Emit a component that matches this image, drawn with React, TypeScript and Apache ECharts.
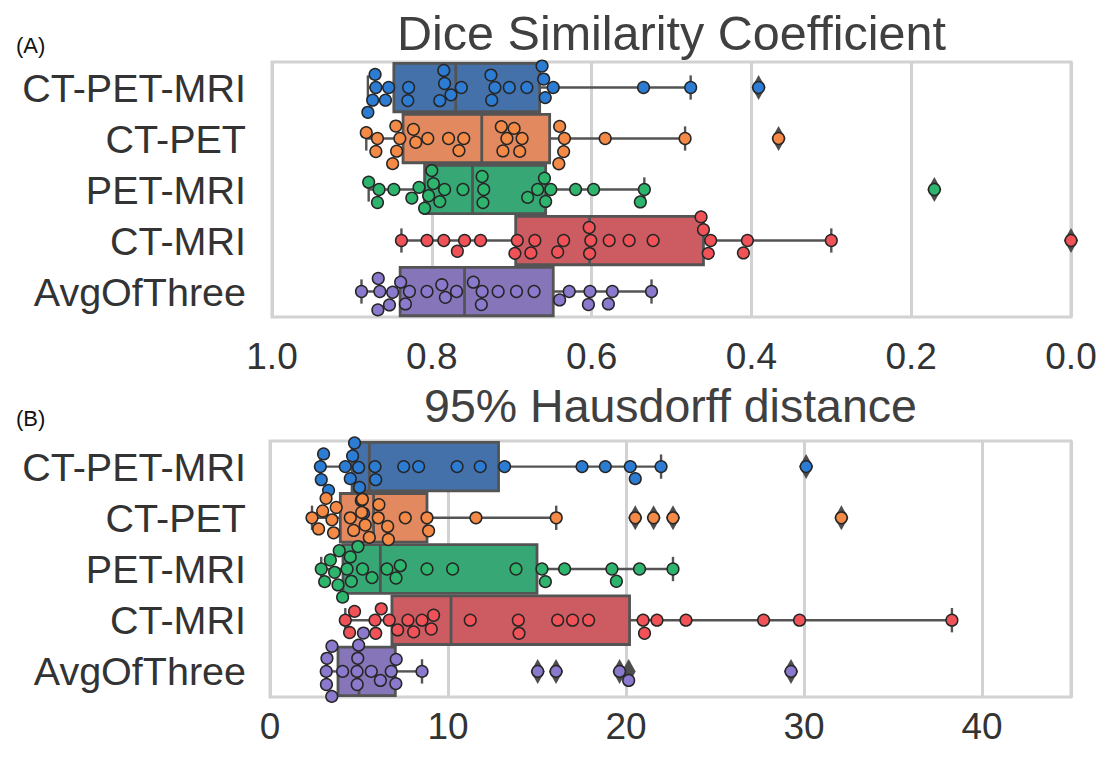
import React, { useEffect, useRef } from 'react';
import * as echarts from 'echarts';

const categories = ['CT-PET-MRI', 'CT-PET', 'PET-MRI', 'CT-MRI', 'AvgOfThree'];

// Dice similarity coefficient (per case)
const diceCtPetMri = [0.880, 0.871, 0.858, 0.870, 0.854, 0.874, 0.875, 0.830, 0.829, 0.784, 0.776, 0.785, 0.790, 0.763, 0.725, 0.721, 0.703, 0.681, 0.726, 0.658, 0.648, 0.660, 0.662, 0.535, 0.476, 0.391];
const diceCtPet = [0.849, 0.870, 0.844, 0.882, 0.868, 0.840, 0.845, 0.823, 0.820, 0.805, 0.779, 0.766, 0.760, 0.713, 0.690, 0.706, 0.687, 0.697, 0.711, 0.641, 0.635, 0.634, 0.640, 0.583, 0.483, 0.366];
const dicePetMri = [0.879, 0.868, 0.866, 0.8475, 0.825, 0.816, 0.809, 0.804, 0.800, 0.798, 0.790, 0.784, 0.761, 0.737, 0.736, 0.735, 0.680, 0.6675, 0.659, 0.6575, 0.651, 0.620, 0.5975, 0.539, 0.534, 0.171];
const diceCtMri = [0.838, 0.806, 0.785, 0.768, 0.759, 0.739, 0.696, 0.693, 0.676, 0.671, 0.6425, 0.635, 0.603, 0.601, 0.6025, 0.578, 0.553, 0.523, 0.463, 0.454, 0.451, 0.460, 0.410, 0.405, 0.300, 0.0];
const diceAvg = [0.888, 0.867, 0.865, 0.8675, 0.849, 0.853, 0.839, 0.833, 0.828, 0.806, 0.7875, 0.783, 0.769, 0.738, 0.737, 0.748, 0.717, 0.694, 0.672, 0.640, 0.628, 0.604, 0.602, 0.579, 0.574, 0.525];

// box stats: [lower whisker, Q1, median, Q3, upper whisker]
const diceBoxes = [
  [0.476, 0.665, 0.770, 0.8475, 0.880],
  [0.483, 0.6525, 0.7375, 0.836, 0.882],
  [0.534, 0.6575, 0.749, 0.809, 0.879],
  [0.300, 0.460, 0.6025, 0.695, 0.838],
  [0.525, 0.648, 0.759, 0.8396, 0.888],
];
const diceOutliers = [[0.391], [0.366], [0.171], [0.0], []];
const diceTicks = [0, 0.2, 0.4, 0.6, 0.8, 1.0];

// 95% Hausdorff distance (per case)
const hdCtPetMri = [2.88, 3.29, 2.83, 3.01, 4.23, 4.51, 4.98, 5.20, 5.03, 4.64, 5.13, 4.75, 5.26, 5.90, 5.94, 7.51, 8.35, 10.51, 11.81, 13.18, 17.53, 18.84, 20.24, 20.52, 21.97, 30.12];
const hdCtPet = [2.36, 2.73, 3.15, 2.96, 3.48, 3.72, 3.57, 4.51, 4.70, 5.15, 5.19, 5.35, 5.58, 6.08, 6.12, 6.61, 6.65, 7.60, 8.82, 8.91, 11.57, 16.08, 20.52, 21.55, 22.64, 32.1];
const hdPetMri = [3.07, 2.88, 3.39, 3.63, 3.89, 4.08, 3.82, 4.33, 4.57, 4.51, 4.94, 5.20, 5.73, 6.57, 7.08, 7.32, 8.82, 10.26, 13.82, 15.28, 15.47, 16.55, 19.21, 19.46, 20.76, 22.64];
const hdCtMri = [4.47, 4.23, 4.75, 5.90, 5.94, 6.25, 6.70, 7.17, 7.75, 8.07, 8.54, 9.06, 9.19, 11.25, 13.95, 13.99, 16.16, 17.0, 17.9, 20.96, 21.04, 21.74, 23.37, 27.73, 29.75, 38.31];
const hdAvg = [3.48, 3.16, 3.17, 3.20, 3.47, 3.72, 4.08, 4.98, 5.26, 4.89, 4.90, 4.97, 4.99, 5.25, 5.69, 6.20, 6.81, 7.07, 7.09, 8.54, 4.93, 15.04, 16.07, 19.64, 20.15, 29.27];

const hdBoxes = [
  [2.83, 4.61, 5.58, 12.84, 21.97],
  [2.36, 3.95, 5.82, 8.82, 16.08],
  [2.88, 4.10, 6.20, 15.0, 22.64],
  [4.23, 6.85, 10.17, 20.2, 38.31],
  [3.16, 3.82, 5.0, 7.04, 8.54],
];
const hdOutliers = [[30.12], [20.52, 21.55, 22.64, 32.1], [], [], [15.04, 16.07, 19.64, 20.15, 29.27]];
const hdTicks = [0, 10, 20, 30, 40];

const diceValues = [diceCtPetMri, diceCtPet, dicePetMri, diceCtMri, diceAvg];
const hdValues = [hdCtPetMri, hdCtPet, hdPetMri, hdCtMri, hdAvg];

const boxColors = ['#4571ab', '#e2895f', '#37a776', '#cd5b62', '#8675b9'];
const pointColors = ['#2d7cd4', '#f58a46', '#2db56e', '#f05258', '#8a79cc'];
const edgeColor = '#545454';
const gridColor = '#d2d2d2';
const FONT = '"Liberation Sans", Arial, sans-serif';

const POINT_D = 12.5;

// seaborn-like beeswarm: returns pixel offsets perpendicular to value axis
function swarmOffsets(vals: number[], pxPerUnit: number, d: number): number[] {
  const order = vals.map((_, i) => i).sort((a, b) => vals[a] - vals[b]);
  const placed: { x: number; y: number }[] = [];
  const out = new Array(vals.length).fill(0);
  for (const i of order) {
    const x = vals[i] * pxPerUnit;
    const neighbors = placed.filter((p) => Math.abs(p.x - x) < d);
    const cands: number[] = [0];
    for (const p of neighbors) {
      const dx = x - p.x;
      const dy = Math.sqrt(Math.max(d * d - dx * dx, 0)) * 1.05;
      cands.push(p.y + dy, p.y - dy);
    }
    const sorted = cands.map((c, k) => ({ c, k })).sort((a, b) => Math.abs(a.c) - Math.abs(b.c) || a.k - b.k);
    let chosen = sorted[sorted.length - 1].c;
    for (const { c } of sorted) {
      if (neighbors.every((p) => (p.x - x) ** 2 + (p.y - c) ** 2 >= d * d * 0.98)) {
        chosen = c;
        break;
      }
    }
    placed.push({ x, y: chosen });
    out[i] = chosen;
  }
  return out;
}

const G1 = { left: 272, top: 62, width: 799, height: 255 };
const G2 = { left: 270, top: 441, width: 801, height: 256 };

function buildPanel(
  values: number[][],
  boxes: number[][],
  outliers: number[][],
  pxPerUnit: number,
  bandPx: number,
  xi: number,
  yCat: number,
  yVal: number
) {
  const boxData = boxes.map((b, i) => [i, ...b]);
  const custom = {
    type: 'custom',
    xAxisIndex: xi,
    yAxisIndex: yCat,
    z: 2,
    encode: { x: [1, 2, 3, 4, 5], y: 0 },
    data: boxData,
    renderItem: (params: any, api: any) => {
      const ci = api.value(0);
      const lo = api.value(1), q1 = api.value(2), med = api.value(3), q3 = api.value(4), hi = api.value(5);
      const band = api.size([0, 1])[1];
      const h = band * 0.95;
      const pLo = api.coord([lo, ci]);
      const pQ1 = api.coord([q1, ci]);
      const pMed = api.coord([med, ci]);
      const pQ3 = api.coord([q3, ci]);
      const pHi = api.coord([hi, ci]);
      const y = pQ1[1];
      const xa = Math.min(pQ1[0], pQ3[0]);
      const xb = Math.max(pQ1[0], pQ3[0]);
      const ls = { stroke: edgeColor, lineWidth: 2.4 };
      return {
        type: 'group',
        children: [
          { type: 'line', shape: { x1: pLo[0], y1: y, x2: pQ1[0], y2: y }, style: ls },
          { type: 'line', shape: { x1: pQ3[0], y1: y, x2: pHi[0], y2: y }, style: ls },
          { type: 'line', shape: { x1: pLo[0], y1: y - h / 4, x2: pLo[0], y2: y + h / 4 }, style: ls },
          { type: 'line', shape: { x1: pHi[0], y1: y - h / 4, x2: pHi[0], y2: y + h / 4 }, style: ls },
          {
            type: 'rect',
            shape: { x: xa, y: y - h / 2, width: xb - xa, height: h },
            style: { fill: boxColors[ci], stroke: edgeColor, lineWidth: 2.8 },
          },
          { type: 'line', shape: { x1: pMed[0], y1: y - h / 2, x2: pMed[0], y2: y + h / 2 }, style: { stroke: edgeColor, lineWidth: 2.8 } },
        ],
      };
    },
  };
  const diamonds: any[] = [];
  outliers.forEach((arr, i) => arr.forEach((v) => diamonds.push([v, i])));
  const flier = {
    type: 'scatter',
    xAxisIndex: xi,
    yAxisIndex: yVal,
    z: 3,
    symbol: 'diamond',
    symbolSize: [14, 25],
    itemStyle: { color: '#4d4d4d', opacity: 1 },
    data: diamonds,
    clip: true,
  };
  const pts: any[] = [];
  values.forEach((arr, i) => {
    const offs = swarmOffsets(arr, pxPerUnit, POINT_D);
    arr.forEach((v, k) => {
      pts.push({ value: [v, i + offs[k] / bandPx], itemStyle: { color: pointColors[i] } });
    });
  });
  const swarm = {
    type: 'scatter',
    xAxisIndex: xi,
    yAxisIndex: yVal,
    z: 4,
    symbol: 'circle',
    symbolSize: POINT_D - 0.8,
    itemStyle: { borderColor: '#262626', borderWidth: 1.5, opacity: 1 },
    data: pts,
    clip: true,
  };
  return [custom, flier, swarm];
}

export default function App() {
  const ref = useRef<HTMLDivElement>(null);
  useEffect(() => {
    document.body.style.margin = '0';
    if (!ref.current) return;
    const chart = echarts.init(ref.current, undefined, { renderer: 'svg' });
    const catAxis = (gi: number, margin: number) => ({
      type: 'category',
      gridIndex: gi,
      data: categories,
      inverse: true,
      axisLine: { show: false },
      axisTick: { show: false },
      splitLine: { show: false },
      axisLabel: { fontSize: 39.5, color: '#333', fontFamily: FONT, margin, interval: 0, hideOverlap: false },
    });
    const valAxis = (gi: number) => ({
      type: 'value',
      gridIndex: gi,
      min: -0.5,
      max: 4.5,
      inverse: true,
      show: false,
      splitLine: { show: false },
    });
    const option: any = {
      animation: false,
      backgroundColor: '#ffffff',
      grid: [
        { ...G1, show: true, borderColor: gridColor, borderWidth: 3, containLabel: false },
        { ...G2, show: true, borderColor: gridColor, borderWidth: 3, containLabel: false },
      ],
      xAxis: [
        {
          type: 'value',
          gridIndex: 0,
          min: diceTicks[0],
          max: diceTicks[diceTicks.length - 1],
          interval: 0.2,
          inverse: true,
          axisLine: { show: false },
          axisTick: { show: false },
          splitLine: { show: true, lineStyle: { color: gridColor, width: 3 } },
          axisLabel: {
            fontSize: 37,
            color: '#333',
            fontFamily: FONT,
            margin: 21,
            formatter: (v: number) => v.toFixed(1),
          },
        },
        {
          type: 'value',
          gridIndex: 1,
          min: hdTicks[0],
          max: 45,
          interval: 10,
          axisLine: { show: false },
          axisTick: { show: false },
          splitLine: { show: true, lineStyle: { color: gridColor, width: 3 } },
          axisLabel: {
            fontSize: 37,
            color: '#333',
            fontFamily: FONT,
            margin: 11,
            showMaxLabel: false,
            formatter: (v: number) => (hdTicks.includes(v) ? String(v) : ''),
          },
        },
      ],
      yAxis: [catAxis(0, 26), valAxis(0), catAxis(1, 24), valAxis(1)],
      graphic: [
        {
          type: 'text',
          x: G1.left + G1.width / 2,
          y: 33,
          style: {
            text: 'Dice Similarity Coefficient',
            fontSize: 48.5,
            fontFamily: FONT,
            fill: '#404040',
            textAlign: 'center',
            textVerticalAlign: 'middle',
          },
        },
        {
          type: 'text',
          x: G2.left + G2.width / 2,
          y: 406,
          style: {
            text: '95% Hausdorff distance',
            fontSize: 46.5,
            fontFamily: FONT,
            fill: '#404040',
            textAlign: 'center',
            textVerticalAlign: 'middle',
          },
        },
        {
          type: 'text',
          x: 16,
          y: 45,
          style: { text: '(A)', fontSize: 22, fontFamily: FONT, fill: '#111', textVerticalAlign: 'middle' },
        },
        {
          type: 'text',
          x: 16,
          y: 418,
          style: { text: '(B)', fontSize: 22, fontFamily: FONT, fill: '#111', textVerticalAlign: 'middle' },
        },
      ],
      series: [
        ...buildPanel(diceValues, diceBoxes, diceOutliers, G1.width / 1.0, G1.height / 5, 0, 0, 1),
        ...buildPanel(hdValues, hdBoxes, hdOutliers, G2.width / 45, G2.height / 5, 1, 2, 3),
      ],
    };
    chart.setOption(option);
    return () => chart.dispose();
  }, []);
  return <div ref={ref} style={{ width: 1102, height: 758 }} />;
}
